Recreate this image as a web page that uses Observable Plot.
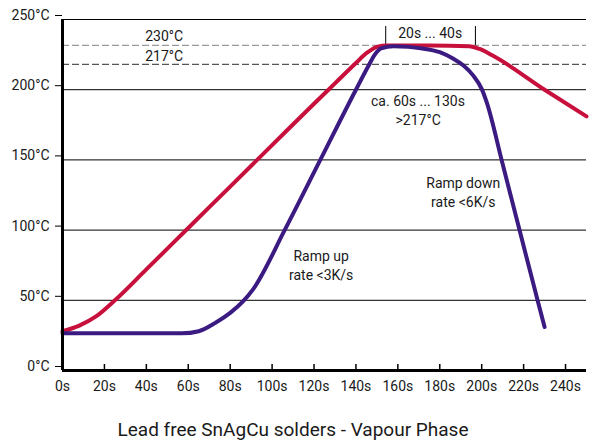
<!DOCTYPE html>
<html>
<head>
<meta charset="utf-8">
<script src="https://cdn.jsdelivr.net/npm/d3@7"></script>
<script src="https://cdn.jsdelivr.net/npm/@observablehq/plot@0.6"></script>
<style>
  html, body { margin: 0; padding: 0; background: #fff; }
  #chart svg { display: block; }
  #caption { font-family: Roboto, sans-serif; font-size: 19px; color: #1a1a1a; text-align: center; width: 586px; margin-top: 19px; line-height: 22px; }
</style>
</head>
<body>
<div id="chart"></div>
<div id="caption">Lead free SnAgCu solders - Vapour Phase</div>
<script>
// Time axis (seconds) and temperature axis (°C)
const xTicks = [0, 20, 40, 60, 80, 100, 120, 140, 160, 180, 200, 220, 240];
const yTicks = [0, 50, 100, 150, 200, 250];
const gridTicks = [50, 100, 150, 200, 250];

// Red profile
const redTime = [0, 8, 16, 25, 40, 60, 80, 100, 120, 130, 140, 145, 150, 155, 175, 194, 199, 205, 230, 250];
const redTemp = [28, 32, 38.5, 50, 72, 101.5, 131, 160.5, 190, 204.5, 219, 226, 230.5, 231.5, 231.5, 231, 229, 224.5, 200, 181];

// Purple profile
const purpleTime = [0, 20, 40, 57, 65, 73, 80, 86, 91, 106, 123, 140, 146, 149, 152, 158, 165, 171, 180, 186.5, 191.3, 196, 200, 202.4, 210, 227, 230];
const purpleTemp = [26.5, 26.5, 26.5, 26.5, 28, 34, 41, 49, 58, 100, 150, 200, 217, 225, 229.5, 231, 230.5, 229.5, 226.7, 222, 217.2, 210, 200.6, 191, 147, 48, 31];

// Reference levels (drawn positions) and their labels
const refTemps = [231.5, 218];
const refLabels = ["230°C", "217°C"];
const refLabelTemps = [237.9, 223.6];

// Bracket for time above 230°C
const bracketTimes = [154.2, 197];
const bracketTop = 245;

// Annotation texts
const annTexts = ["20s ... 40s", "ca. 60s ... 130s", ">217°C", "Ramp up", "rate <3K/s", "Ramp down", "rate <6K/s"];
const annTime = [175.4, 169.6, 169.7, 123.4, 123.4, 191.2, 191.2];
const annTemp = [240, 191.6, 178, 81.2, 67.7, 133.2, 119.3];

const red = redTime.map((t, i) => ({t, v: redTemp[i]}));
const purple = purpleTime.map((t, i) => ({t, v: purpleTemp[i]}));
const refs = refTemps.map((v, i) => ({v, label: refLabels[i], lv: refLabelTemps[i], color: i === 0 ? "#9a9a9a" : "#555"}));
const anns = annTexts.map((s, i) => ({s, t: annTime[i], v: annTemp[i]}));

const chart = Plot.plot({
  width: 593,
  height: 400,
  marginLeft: 62,
  marginRight: 7,
  marginTop: 19,
  marginBottom: 30,
  style: {fontFamily: "Roboto, sans-serif", fontSize: "14px", color: "#1a1a1a", overflow: "visible"},
  x: {domain: [0, 250]},
  y: {domain: [0, 250]},
  marks: [
    Plot.ruleY(gridTicks, {stroke: "#000", strokeWidth: 1}),
    Plot.ruleY(refs, {y: "v", stroke: "color", strokeWidth: 1.2, strokeDasharray: "7,3"}),
    Plot.text(refs, {x: () => 48.5, y: "lv", text: "label", fontSize: 14, fill: "#1a1a1a"}),
    Plot.ruleX(bracketTimes, {x: d => d, y1: refTemps[0], y2: bracketTop, stroke: "#000", strokeWidth: 1}),
    Plot.line(red, {x: "t", y: "v", stroke: "#c8103c", strokeWidth: 4, curve: "monotone-x"}),
    Plot.line(purple, {x: "t", y: "v", stroke: "#3b1b82", strokeWidth: 4, curve: "monotone-x"}),
    Plot.text(anns, {x: "t", y: "v", text: "s", fontSize: 14, fill: "#1a1a1a"}),
    Plot.ruleX(xTicks, {x: d => d, insetTop: 345, stroke: "#000", strokeWidth: 1.5}),
    Plot.ruleX([0], {stroke: "#000", strokeWidth: 3}),
    Plot.ruleY([0], {stroke: "#000", strokeWidth: 3}),
    Plot.axisY({ticks: yTicks, tickSize: 7, tickPadding: 6, tickFormat: d => `${d}°C`, label: null, fontSize: 14, dy: -4, stroke: "#000"}),
    Plot.axisX({ticks: xTicks, tickSize: 0, tickPadding: 11, tickFormat: d => `${d}s`, label: null, fontSize: 14})
  ]
});
document.getElementById("chart").appendChild(chart);
</script>
</body>
</html>
